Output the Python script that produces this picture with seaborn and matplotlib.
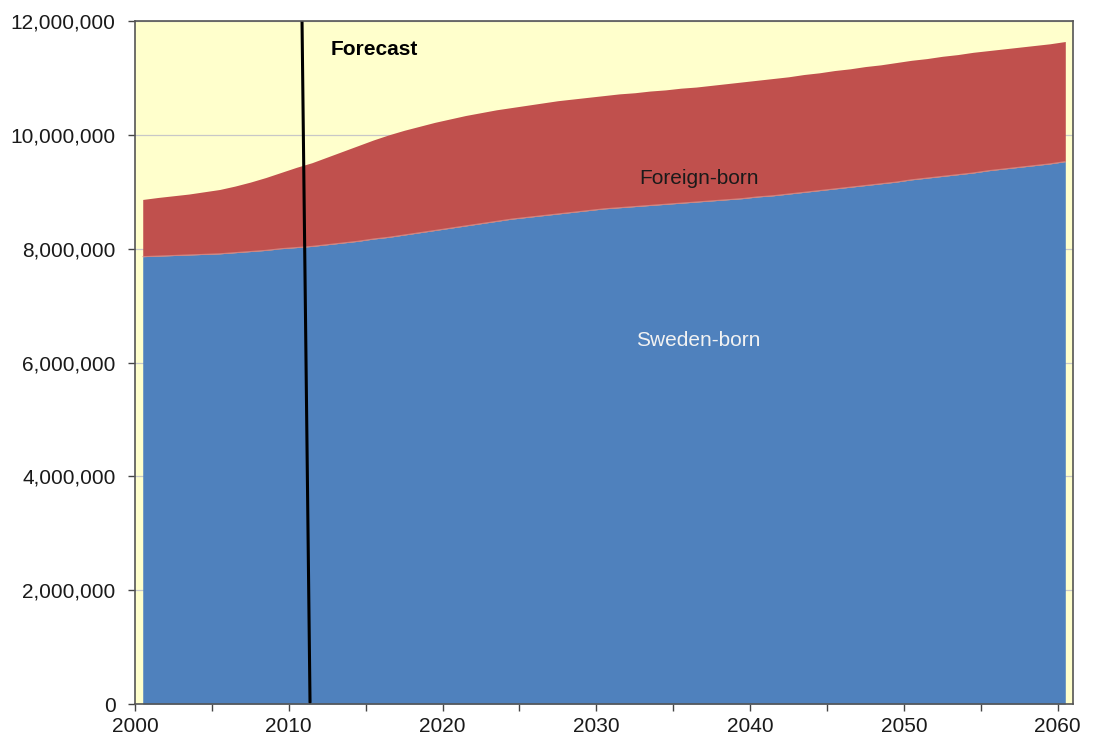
import numpy as np
import pandas as pd
import matplotlib
matplotlib.use("Agg")
import matplotlib.pyplot as plt
from matplotlib.ticker import FuncFormatter, MultipleLocator
import seaborn as sns

# Population of Sweden by country of birth, millions (mid-year), 2000-2060
years = list(range(2000, 2061))
sweden_born = [
    7.86, 7.87, 7.88, 7.89, 7.90, 7.91, 7.93, 7.95, 7.97, 8.00,
    8.02, 8.04, 8.07, 8.10, 8.13, 8.17, 8.20, 8.24, 8.28, 8.32,
    8.36, 8.40, 8.44, 8.48, 8.52, 8.55, 8.58, 8.61, 8.64, 8.67,
    8.70, 8.72, 8.74, 8.76, 8.78, 8.80, 8.82, 8.84, 8.86, 8.88,
    8.91, 8.93, 8.96, 8.99, 9.02, 9.05, 9.08, 9.11, 9.14, 9.17,
    9.21, 9.24, 9.27, 9.30, 9.33, 9.37, 9.40, 9.43, 9.46, 9.49,
    9.53,
]
foreign_born = [
    1.005, 1.03, 1.05, 1.07, 1.10, 1.13, 1.17, 1.22, 1.28, 1.34,
    1.41, 1.47, 1.54, 1.61, 1.68, 1.74, 1.80, 1.84, 1.87, 1.90,
    1.92, 1.94, 1.95, 1.96, 1.96, 1.97, 1.98, 1.99, 1.99, 1.99,
    1.99, 2.00, 2.00, 2.01, 2.01, 2.02, 2.02, 2.03, 2.04, 2.05,
    2.05, 2.06, 2.06, 2.07, 2.07, 2.08, 2.08, 2.09, 2.09, 2.10,
    2.10, 2.10, 2.11, 2.11, 2.12, 2.11, 2.11, 2.11, 2.11, 2.11,
    2.11,
]
series_labels = ["Sweden-born", "Foreign-born"]
forecast_start = 2011
y_ticks = [0, 2_000_000, 4_000_000, 6_000_000, 8_000_000, 10_000_000, 12_000_000]

df = pd.DataFrame({
    "year": years,
    "Sweden-born": np.array(sweden_born) * 1e6,
    "Foreign-born": np.array(foreign_born) * 1e6,
})
df["x"] = df["year"] + 0.5  # values are mid-year

sns.set_theme(style="white")
plt.rcParams["font.family"] = ["Liberation Sans", "DejaVu Sans"]

fig = plt.figure(figsize=(10.97, 7.40), dpi=100)
ax = fig.add_axes([0.1231, 0.0486, 0.9781 - 0.1231, 0.9716 - 0.0486])
ax.set_facecolor("#FFFFCC")

blue = "#4F81BD"
red = "#C0504D"
ax.stackplot(df["x"], df["Sweden-born"], df["Foreign-born"],
             colors=[blue, red], linewidth=0, zorder=2)
sns.lineplot(data=df, x="x", y="Sweden-born", color="#D99694",
             linewidth=0.8, alpha=0.7, ax=ax, zorder=3)

ax.set_xlim(2000, 2061)
ax.set_ylim(0, 12_000_000)
ax.set_yticks(y_ticks)
ax.yaxis.set_major_formatter(FuncFormatter(lambda v, p: f"{int(v):,}"))
ax.xaxis.set_major_locator(MultipleLocator(10))
ax.xaxis.set_minor_locator(MultipleLocator(5))
ax.set_xlabel("")
ax.set_ylabel("")

ax.grid(axis="y", color="#C8C8C8", linewidth=0.9, zorder=1)
ax.set_axisbelow(True)
for s in ax.spines.values():
    s.set_color("#555555")
    s.set_linewidth(1.2)
    s.set_zorder(5)

ax.tick_params(axis="both", which="both", direction="out", colors="#444444",
               labelcolor="#1A1A1A", labelsize=15, length=5, width=1)
ax.tick_params(axis="x", which="major", pad=4)
ax.tick_params(axis="y", which="major", pad=9)
ax.tick_params(axis="x", which="minor", length=5)
ax.tick_params(left=True, bottom=True, which="both")
ax.tick_params(axis="y", which="minor", left=False)

# Forecast boundary
ax.plot([forecast_start - 0.14, forecast_start + 0.38], [12_000_000, 30_000],
        color="black", linewidth=2.2, zorder=4)
ax.text(2012.7, 11_500_000, "Forecast", fontsize=15, fontweight="bold",
        color="black", ha="left", va="center", zorder=6)

ax.text(2036.7, 9_240_000, series_labels[1], fontsize=15, color="#1A1A1A",
        ha="center", va="center", zorder=6)
ax.text(2036.6, 6_380_000, series_labels[0], fontsize=15, color="#F2F2F2",
        ha="center", va="center", zorder=6)

fig.savefig("out.png", dpi=100, facecolor="white")
